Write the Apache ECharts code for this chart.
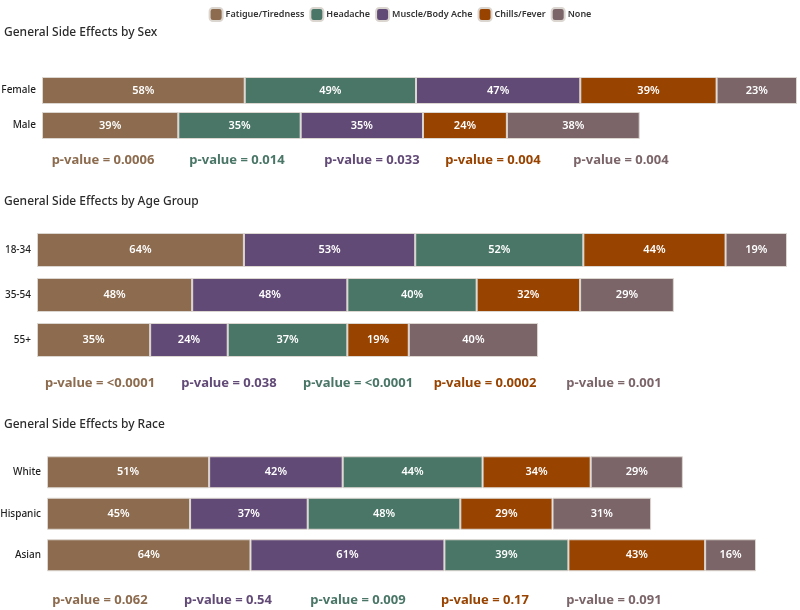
<!DOCTYPE html>
<html>
<head>
<meta charset="utf-8">
<script src="https://cdn.jsdelivr.net/npm/echarts@6/dist/echarts.min.js"></script>
<style>html,body{margin:0;padding:0;background:#fff}#c{width:800px;height:610px}</style>
</head>
<body>
<div id="c"></div>
<script>
// ---- data ----
const effects = ['Fatigue/Tiredness', 'Headache', 'Muscle/Body Ache', 'Chills/Fever', 'None'];

const sexCats = ['Female', 'Male'];
const sexFatigue = [58, 39];
const sexHeadache = [49, 35];
const sexMuscle = [47, 35];
const sexChills = [39, 24];
const sexNone = [23, 38];
const sexPValues = ['0.0006', '0.014', '0.033', '0.004', '0.004']; // fatigue, headache, muscle, chills, none

const ageCats = ['18-34', '35-54', '55+'];
const ageFatigue = [64, 48, 35];
const ageMuscle = [53, 48, 24];
const ageHeadache = [52, 40, 37];
const ageChills = [44, 32, 19];
const ageNone = [19, 29, 40];
const agePValues = ['<0.0001', '0.038', '<0.0001', '0.0002', '0.001']; // fatigue, muscle, headache, chills, none

const raceCats = ['White', 'Hispanic', 'Asian'];
const raceFatigue = [51, 45, 64];
const raceMuscle = [42, 37, 61];
const raceHeadache = [44, 48, 39];
const raceChills = [34, 29, 43];
const raceNone = [29, 31, 16];
const racePValues = ['0.062', '0.54', '0.009', '0.17', '0.091']; // fatigue, muscle, headache, chills, none

const titles = ['General Side Effects by Sex', 'General Side Effects by Age Group', 'General Side Effects by Race'];

// ---- style ----
const FONT = '"Noto Sans", "Open Sans", sans-serif';
const colors = {
  'Fatigue/Tiredness': '#8c6b4e',
  'Headache': '#4a7667',
  'Muscle/Body Ache': '#624a77',
  'Chills/Fever': '#984300',
  'None': '#7b6569'
};

const panels = [
  { cats: sexCats, order: ['Fatigue/Tiredness', 'Headache', 'Muscle/Body Ache', 'Chills/Fever', 'None'],
    values: [sexFatigue, sexHeadache, sexMuscle, sexChills, sexNone], p: sexPValues,
    grid: { left: 42, right: 3, top: 73, height: 70 }, barWidth: 27,
    titleTop: 22, pY: 160, pX: [103, 237, 372, 493, 621] },
  { cats: ageCats, order: ['Fatigue/Tiredness', 'Muscle/Body Ache', 'Headache', 'Chills/Fever', 'None'],
    values: [ageFatigue, ageMuscle, ageHeadache, ageChills, ageNone], p: agePValues,
    grid: { left: 37, right: 13, top: 227.5, height: 135 }, barWidth: 34,
    titleTop: 191, pY: 383, pX: [100, 229, 358, 485, 614] },
  { cats: raceCats, order: ['Fatigue/Tiredness', 'Muscle/Body Ache', 'Headache', 'Chills/Fever', 'None'],
    values: [raceFatigue, raceMuscle, raceHeadache, raceChills, raceNone], p: racePValues,
    grid: { left: 47, right: 44, top: 451.5, height: 124.5 }, barWidth: 32,
    titleTop: 414, pY: 600, pX: [100, 228, 358, 485, 614] }
];

const grid = [], xAxis = [], yAxis = [], series = [], title = [], graphic = [];
panels.forEach((pn, gi) => {
  grid.push(Object.assign({ containLabel: false, outerBoundsMode: 'none' }, pn.grid));
  const totals = pn.cats.map((_, i) => pn.values.reduce((s, arr) => s + arr[i], 0));
  xAxis.push({ gridIndex: gi, type: 'value', min: 0, max: Math.max(...totals), show: false });
  yAxis.push({ gridIndex: gi, type: 'category', data: pn.cats, inverse: true,
    axisLine: { show: false }, axisTick: { show: false },
    axisLabel: { margin: 6, color: '#1f1f1f', fontSize: 10, fontWeight: 500, fontFamily: FONT } });
  pn.order.forEach((name, si) => {
    series.push({
      type: 'bar', name: name, xAxisIndex: gi, yAxisIndex: gi, stack: 'g' + gi,
      data: pn.values[si], barWidth: pn.barWidth,
      itemStyle: { color: colors[name], borderColor: '#dcd6d0', borderWidth: 1 },
      label: { show: true, position: 'inside', formatter: '{c}%', color: '#fff',
        fontSize: 11, fontWeight: 600, fontFamily: FONT },
      emphasis: { disabled: true }, animation: false
    });
    graphic.push({ type: 'text', x: pn.pX[si], y: pn.pY,
      style: { text: 'p-value = ' + pn.p[si], fill: colors[name], font: 'bold 13px ' + FONT,
        textAlign: 'center', textVerticalAlign: 'middle' } });
  });
  title.push({ text: titles[gi], left: 0, top: pn.titleTop, padding: [5, 4],
    textStyle: { fontSize: 12, fontWeight: 500, color: '#2b2b2b', fontFamily: FONT } });
});

const chart = echarts.init(document.getElementById('c'), null, { renderer: 'canvas' });
chart.setOption({
  animation: false,
  title: title,
  legend: { data: effects, top: 2, left: 'center', itemWidth: 13, itemHeight: 13, itemGap: 5,
    textStyle: { fontSize: 9, fontWeight: 600, color: '#333', fontFamily: FONT, padding: [0, 0, 0, -2] } },
  grid: grid, xAxis: xAxis, yAxis: yAxis, series: series, graphic: graphic
});
</script>
</body>
</html>
